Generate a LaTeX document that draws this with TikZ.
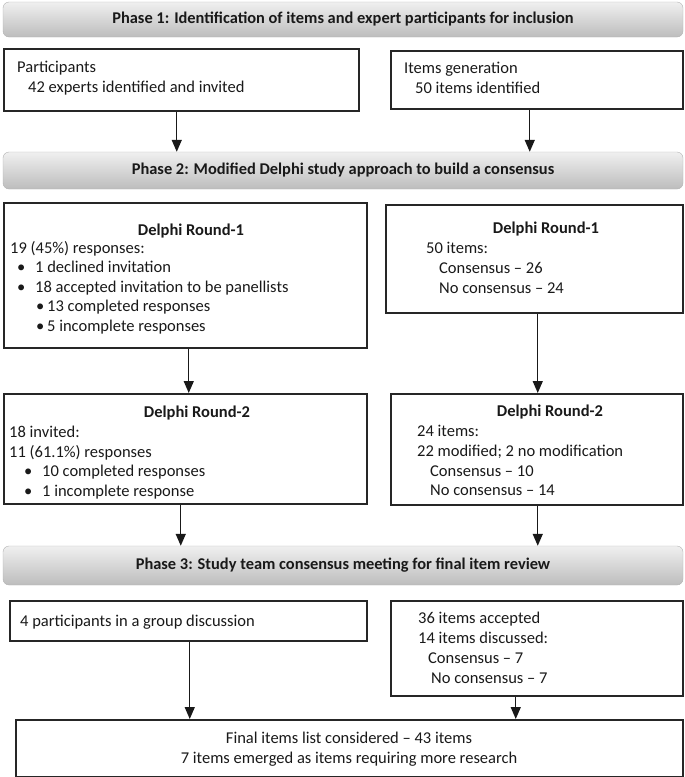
\documentclass[tikz,border=0pt]{standalone}
\usepackage{fontspec}
\setmainfont{Carlito}
\usepackage{tikz}
\usetikzlibrary{arrows,arrows.meta,shapes,backgrounds}

\begin{document}
\begin{tikzpicture}[x=1pt, y=-1pt, inner sep=0pt, font=\fontsize{16.5}{20}\selectfont, color=black!90]
    \tikzstyle{phase}=[rectangle, rounded corners=6pt, draw=black!30, top color=black!6, bottom color=black!26, minimum width=680pt, font=\fontsize{16.4}{20}\selectfont\bfseries]
    \tikzstyle{box}=[rectangle, draw=black!85, line width=1.5pt, anchor=north west]
    \tikzstyle{txt}=[anchor=base west]
    \tikzstyle{head}=[anchor=base, font=\fontsize{16.5}{20}\selectfont\bfseries]
    \tikzstyle{arr}=[->, >={Triangle[length=12pt,width=10pt]}, line width=1.4pt]

    \useasboundingbox (0,0) rectangle (685,777);

    % phases
    \node[phase, minimum height=35pt] (ph1) at (343,19.5) {Phase 1: Identification of items and expert participants for inclusion};
    \node[phase, minimum height=37pt] (ph2) at (343,170.5) {Phase 2: Modified Delphi study approach to build a consensus};
    \node[phase, minimum height=39pt] (ph3) at (343,565.5) {Phase 3: Study team consensus meeting for final item review};

    % phase 1 boxes
    \node[box, minimum width=355pt, minimum height=62pt] (part) at (3,48) {};
    \node[txt] (partA) at (17,72) {Participants};
    \node[txt] (partB) at (28,92) {42 experts identified and invited};

    \node[box, minimum width=292pt, minimum height=58pt] (item) at (390,50) {};
    \node[txt] (itemA) at (404,73) {Items generation};
    \node[txt] (itemB) at (415,93) {50 items identified};

    % phase 2, round 1
    \node[box, minimum width=363pt, minimum height=145pt] (r1L) at (3,202) {};
    \node[head] (r1Lh) at (191,235) {Delphi Round-1};
    \node[txt] (r1La) at (10,253) {19 (45\%) responses:};
    \node[txt] (r1Lb) at (17,272) {\makebox[18pt][l]{\textbullet}1 declined invitation};
    \node[txt] (r1Lc) at (17,292) {\makebox[18pt][l]{\textbullet}18 accepted invitation to be panellists};
    \node[txt] (r1Ld) at (36,311) {\makebox[11pt][l]{\textbullet}13 completed responses};
    \node[txt] (r1Le) at (36,331) {\makebox[11pt][l]{\textbullet}5 incomplete responses};

    \node[box, minimum width=297pt, minimum height=108pt] (r1R) at (385,204) {};
    \node[head] (r1Rh) at (546,233) {Delphi Round-1};
    \node[txt] (r1Ra) at (426,253) {50 items:};
    \node[txt] (r1Rb) at (439,273) {Consensus -- 26};
    \node[txt] (r1Rc) at (439,293) {No consensus -- 24};

    % phase 2, round 2
    \node[box, minimum width=363pt, minimum height=110pt] (r2L) at (3,393) {};
    \node[head] (r2Lh) at (197,417) {Delphi Round-2};
    \node[txt] (r2La) at (9,437) {18 invited:};
    \node[txt] (r2Lb) at (9,457) {11 (61.1\%) responses};
    \node[txt] (r2Lc) at (24,476) {\makebox[18pt][l]{\textbullet}10 completed responses};
    \node[txt] (r2Ld) at (24,496) {\makebox[18pt][l]{\textbullet}1 incomplete response};

    \node[box, minimum width=292pt, minimum height=111pt] (r2R) at (390,393) {};
    \node[head] (r2Rh) at (550,416) {Delphi Round-2};
    \node[txt] (r2Ra) at (417,436) {24 items:};
    \node[txt] (r2Rb) at (417,456) {22 modified; 2 no modification};
    \node[txt] (r2Rc) at (430,476) {Consensus -- 10};
    \node[txt] (r2Rd) at (430,495) {No consensus -- 14};

    % phase 3
    \node[box, minimum width=357pt, minimum height=40pt] (grp) at (9,600) {};
    \node[txt] (grpA) at (20,626) {4 participants in a group discussion};

    \node[box, minimum width=292pt, minimum height=95pt] (rev) at (390,600) {};
    \node[txt] (revA) at (418,623) {36 items accepted};
    \node[txt] (revB) at (418,643) {14 items discussed:};
    \node[txt] (revC) at (428,663) {Consensus -- 7};
    \node[txt] (revD) at (431,683) {No consensus -- 7};

    \node[box, minimum width=667pt, minimum height=57pt] (fin) at (15,719) {};
    \node[anchor=base] (finA) at (349,743) {Final items list considered -- 43 items};
    \node[anchor=base] (finB) at (349,763) {7 items emerged as items requiring more research};

    % arrows
    \draw[arr] ([xshift=-4.5pt]part.south) -- ([xshift=-4.5pt]part.south |- ph2.north);
    \draw[arr] ([xshift=-7pt]item.south) -- ([xshift=-7pt]item.south |- ph2.north);

    \draw[arr] ([xshift=3.5pt]r1L.south) -- ([xshift=3.5pt]r1L.south |- r2L.north);
    \draw[arr] ([xshift=3.5pt]r1R.south) -- ([xshift=3.5pt]r1R.south |- r2R.north);

    \draw[arr] ([xshift=-4.5pt]r2L.south) -- ([xshift=-4.5pt]r2L.south |- ph3.north);
    \draw[arr] ([xshift=1pt]r2R.south) -- ([xshift=1pt]r2R.south |- ph3.north);

    \draw[arr] ([xshift=1.5pt]grp.south) -- ([xshift=1.5pt]grp.south |- fin.north);
    \draw[arr] ([xshift=-21pt]rev.south) -- ([xshift=-21pt]rev.south |- fin.north);
\end{tikzpicture}
\end{document}
